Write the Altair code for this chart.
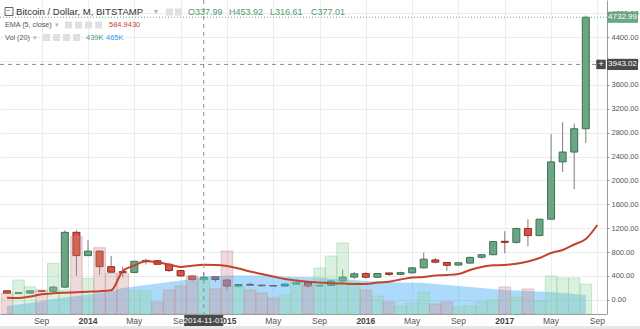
import altair as alt
import pandas as pd

# ---------------- data (monthly, Jun 2013 .. Aug 2017) ----------------
opens = [150, 108, 112, 150, 143, 212, 1130, 740, 815, 555, 472, 458, 645, 655, 595, 490, 398, 337.99,
         385, 332, 230, 258, 245, 238, 231, 262, 290, 232, 240, 315, 380, 438, 378, 450, 425, 452,
         535, 668, 625, 582, 615, 712, 755, 980, 962, 1195, 1075, 1350, 2310, 2475, 2865]
highs = [155, 120, 152, 152, 235, 1165, 1165, 1000, 820, 735, 555, 655, 690, 665, 605, 495, 415, 453.92,
         390, 335, 265, 290, 260, 245, 268, 315, 292, 245, 330, 505, 465, 465, 448, 455, 470, 550,
         790, 700, 632, 625, 720, 762, 980, 1150, 1205, 1350, 1355, 2775, 2975, 2950, 4760]
lows = [100, 95, 108, 130, 135, 205, 405, 735, 415, 455, 375, 445, 590, 590, 465, 385, 310, 316.61,
        300, 175, 220, 240, 220, 228, 225, 255, 200, 225, 235, 305, 350, 355, 365, 400, 415, 440,
        525, 610, 485, 570, 605, 690, 748, 780, 940, 895, 1070, 1345, 2140, 1855, 2625]
closes = [110, 118, 150, 143, 212, 1130, 740, 815, 555, 462, 458, 645, 660, 595, 490, 400, 340, 377.01,
          340, 230, 255, 245, 236, 231, 262, 290, 232, 240, 315, 380, 435, 378, 440, 425, 455, 535,
          680, 630, 578, 620, 710, 755, 975, 962, 1195, 1075, 1350, 2310, 2475, 2865, 4732.99]
volumes = [260, 425, 340, 300, 634, 300, 966, 446, 829, 509, 509, 300, 288, 150, 300, 350, 475, 439,
           313, 788, 338, 300, 263, 200, 238, 400, 363, 575, 725, 888, 400, 300, 225, 150, 100, 138,
           275, 125, 150, 88, 100, 150, 175, 338, 213, 313, 163, 475, 450, 450, 375]
vol_ma = [100, 119, 138, 163, 188, 206, 225, 244, 263, 281, 325, 344, 363, 381, 400, 419, 438, 465,
          475, 481, 481, 481, 481, 475, 469, 463, 463, 456, 444, 438, 425, 413, 406, 400, 394, 391,
          388, 375, 363, 350, 338, 325, 313, 300, 294, 288, 281, 275, 263, 250, 238]
ema_vals = [33, 30, 55, 92, 109, 119, 127, 136, 144, 159, 482, 575, 645, 630, 590, 550, 572, 585,
            583, 566, 524, 474, 432, 390, 348, 323, 303, 290, 276, 273, 265, 265, 290, 303, 340, 373,
            382, 407, 415, 432, 499, 549, 578, 583, 603, 642, 700, 784, 834, 926, 1018, 1253]

tick_idx = [3, 7, 11, 15, 19, 23, 27, 31, 35, 39, 43, 47, 51]
tick_labels = ["Sep", "2014", "May", "Sep", "2015", "May", "Sep", "2016", "May", "Sep", "2017", "May", "Sep"]
price_ticks = [0, 400, 800, 1200, 1600, 2000, 2400, 2800, 3200, 3600, 4000, 4400, 4800]

cross_month = 17
cross_date = "2014-11-01"
cross_price = 3943.02
ohlc_text = ["O337.99", "H453.92", "L316.61", "C377.01"]
ema_text = "584.9430"
vol_text = "439K"
volma_text = "465K"

# ---------------- styles ----------------
FONT = "Liberation Sans"
UP, UP_B = "#6ba583", "#3b7353"
DN, DN_B = "#d75442", "#8e2b1f"
UP_V, DN_V = "#8fd19a", "#c98d8d"
EMA_C = "#c4432b"
GRID = "#ececec"
AX = "#9b9b9b"

n = len(opens)
df = pd.DataFrame({"m": list(range(n)), "open": opens, "high": highs, "low": lows,
                   "close": closes, "vol": volumes, "volma": vol_ma})
df["m0"] = df["m"] - 0.5
df["m1"] = df["m"] + 0.5
ema_df = pd.DataFrame({"m": list(range(len(ema_vals))), "ema": ema_vals})
ticks_df = pd.DataFrame({"m": tick_idx, "label": tick_labels,
                         "year": [lab.isdigit() for lab in tick_labels]})

XS = alt.Scale(domain=[-0.17, 51.4], nice=False, zero=False)
YS = alt.Scale(domain=[-238, 5022], nice=False, zero=False)
VS = alt.Scale(domain=[0, 3925], nice=False)

x_axis = alt.Axis(values=tick_idx, grid=True, gridColor=GRID, labels=False, ticks=False,
                  domain=True, domainColor=AX, title=None)
y_axis = alt.Axis(orient="right", values=price_ticks, format=".2f", grid=True, gridColor=GRID,
                  domainColor=AX, tickColor=AX, tickSize=2, labelFontSize=7.5, labelColor="#555",
                  labelFont=FONT, labelPadding=2, title=None)

up_cond = "datum.close >= datum.open"
base = alt.Chart(df)
X = alt.X("m:Q", scale=XS, axis=x_axis)

wicks = base.mark_rule(color="#7d7d7d", strokeWidth=1).encode(
    x=X, y=alt.Y("low:Q", scale=YS, axis=y_axis), y2="high:Q")
bodies = base.mark_bar(size=7, strokeWidth=1).encode(
    x=X, y=alt.Y("open:Q", scale=YS, axis=y_axis), y2="close:Q",
    fill=alt.condition(up_cond, alt.value(UP), alt.value(DN)),
    stroke=alt.condition(up_cond, alt.value(UP_B), alt.value(DN_B)))
price = alt.layer(wicks, bodies)

area = base.mark_area(color="#3aa8f2", opacity=0.42, interpolate="monotone").encode(
    x=X, y=alt.Y("volma:Q", scale=VS, axis=None))
vbars = base.mark_rect(fillOpacity=0.32, strokeOpacity=0.45, strokeWidth=1).encode(
    x=alt.X("m0:Q", scale=XS, axis=x_axis), x2="m1:Q",
    y=alt.Y("vol:Q", scale=VS, axis=None), y2=alt.datum(0),
    fill=alt.condition(up_cond, alt.value(UP_V), alt.value(DN_V)),
    stroke=alt.condition(up_cond, alt.value(UP_V), alt.value(DN_V)))
volume = alt.layer(area, vbars)

ema = alt.Chart(ema_df).mark_line(color=EMA_C, strokeWidth=2, interpolate="monotone").encode(
    x=alt.X("m:Q", scale=XS, axis=x_axis), y=alt.Y("ema:Q", scale=YS, axis=None))

# ---------------- annotations ----------------
cur = pd.DataFrame({"p": [closes[-1]], "label": [f"{closes[-1]:.2f}"]})
cross = pd.DataFrame({"m": [cross_month], "p": [cross_price], "plabel": [f"{cross_price:.2f}"],
                      "dlabel": [cross_date]})
YA = alt.Y("p:Q", scale=YS, axis=None)
box_price = "M-1,-0.36H1V0.36H-1Z"
box_date = "M-1,-0.28H1V0.28H-1Z"

month_lbl = alt.Chart(ticks_df).transform_filter("!datum.year").mark_text(
    font=FONT, fontSize=8.5, color="#555", baseline="middle").encode(
    x=X, y=alt.value(321), text="label:N")
year_lbl = alt.Chart(ticks_df).transform_filter("datum.year").mark_text(
    font=FONT, fontSize=8.5, color="#444", fontWeight="bold", baseline="middle").encode(
    x=X, y=alt.value(321), text="label:N")
cut = alt.Chart(cur).mark_rect(color="white").encode(
    x=alt.value(607.5), x2=alt.value(640), y=alt.value(315), y2=alt.value(326))
strip = alt.Chart(cur).mark_rect(color="#e6e6e6").encode(
    x=alt.value(0), x2=alt.value(640), y=alt.value(326), y2=alt.value(329))

cur_line = alt.Chart(cur).mark_rule(color=UP, strokeDash=[1, 2], strokeWidth=1).encode(y=YA)
h_cross = alt.Chart(cross).mark_rule(color="#8c8c8c", strokeDash=[4, 4], strokeWidth=1).encode(
    y=YA, x=alt.value(0), x2=alt.value(596))
v_cross = alt.Chart(cross).mark_rule(color="#8c8c8c", strokeDash=[4, 4], strokeWidth=1).encode(
    x=alt.X("m:Q", scale=XS, axis=x_axis))

cur_box = alt.Chart(cur).mark_point(shape=box_price, size=31 * 31, filled=True, opacity=1,
                                    color=UP, strokeWidth=0).encode(x=alt.value(622.5), y=YA)
cur_txt = alt.Chart(cur).mark_text(font=FONT, fontSize=8, color="white", baseline="middle").encode(
    x=alt.value(622.5), y=YA, text="label:N")
cp_box = alt.Chart(cross).mark_point(shape=box_price, size=31 * 31, filled=True, opacity=1,
                                     color="#4a4a4a", strokeWidth=0).encode(x=alt.value(622.5), y=YA)
cp_txt = alt.Chart(cross).mark_text(font=FONT, fontSize=8, color="white", baseline="middle").encode(
    x=alt.value(622.5), y=YA, text="plabel:N")
plus_box = alt.Chart(cross).mark_point(shape="square", size=90, filled=True, opacity=1,
                                       color="#4a4a4a", strokeWidth=0).encode(x=alt.value(601), y=YA)
plus_txt = alt.Chart(cross).mark_text(font=FONT, fontSize=9, color="white", baseline="middle",
                                      text="+").encode(x=alt.value(601), y=YA)
d_box = alt.Chart(cross).mark_point(shape=box_date, size=39 * 39, filled=True, opacity=1,
                                    color="#4a4a4a", strokeWidth=0).encode(
    x=alt.X("m:Q", scale=XS, axis=x_axis), y=alt.value(320.5))
d_txt = alt.Chart(cross).mark_text(font=FONT, fontSize=8, color="white", baseline="middle").encode(
    x=alt.X("m:Q", scale=XS, axis=x_axis), y=alt.value(320.5), text="dlabel:N")

# header / legend
def txt(s, x, y, size, color, weight="normal", font=FONT):
    return alt.Chart(cur).mark_text(text=s, font=font, fontSize=size, color=color, align="left",
                                    baseline="middle", fontWeight=weight).encode(
        x=alt.value(x), y=alt.value(y))

def icon(x, y):
    return alt.Chart(cur).mark_point(shape="square", size=49, filled=True, opacity=1,
                                     color="#e0e0e0", strokeWidth=0).encode(
        x=alt.value(x), y=alt.value(y))

header = [
    alt.Chart(cur).mark_point(shape="square", size=64, filled=False, color="#666",
                              strokeWidth=1, opacity=1).encode(x=alt.value(9), y=alt.value(11.5)),
    txt("−", 6, 11.2, 8, "#666"),
    txt("Bitcoin / Dollar, M, BITSTAMP", 16, 12, 9.6, "#333"),
    txt("▾", 154, 12, 8, "#b0b0b0", font="DejaVu Sans"),
    icon(169.5, 12), icon(178.5, 12),
    txt("EMA (5, close)", 5, 25, 7.2, "#555"),
    txt("▾", 55, 25, 7, "#b0b0b0", font="DejaVu Sans"),
    icon(68.5, 25), icon(78.5, 25), icon(88.5, 25), icon(98.5, 25),
    txt(ema_text, 109, 25, 7.5, EMA_C),
    txt("Vol (20)", 5, 37.5, 7.2, "#555"),
    txt("▾", 33, 37.5, 7, "#b0b0b0", font="DejaVu Sans"),
    icon(46.5, 37.5), icon(56.5, 37.5), icon(66.5, 37.5), icon(76.5, 37.5),
    txt(vol_text, 86, 37.5, 7.5, "#4f9a6e"),
    txt(volma_text, 106, 37.5, 7.5, "#2e9ef0"),
]
for i, s in enumerate(ohlc_text):
    header.append(txt(s, 188 + 41 * i, 12, 9, "#4f9a6e"))

annot = alt.layer(ema, month_lbl, year_lbl, cut, strip, cur_line, h_cross, v_cross,
                  cur_box, cur_txt, plus_box, plus_txt, cp_box, cp_txt, d_box, d_txt, *header)

chart = alt.layer(price, volume, annot).resolve_scale(y="independent").properties(
    width=607, height=314,
    padding={"left": 0, "top": 0, "right": 33, "bottom": 15},
    autosize=alt.AutoSizeParams(type="none"),
    background="white",
).configure_view(stroke=None)

chart.save("out.html", embed_options={"renderer": "svg", "actions": False})
